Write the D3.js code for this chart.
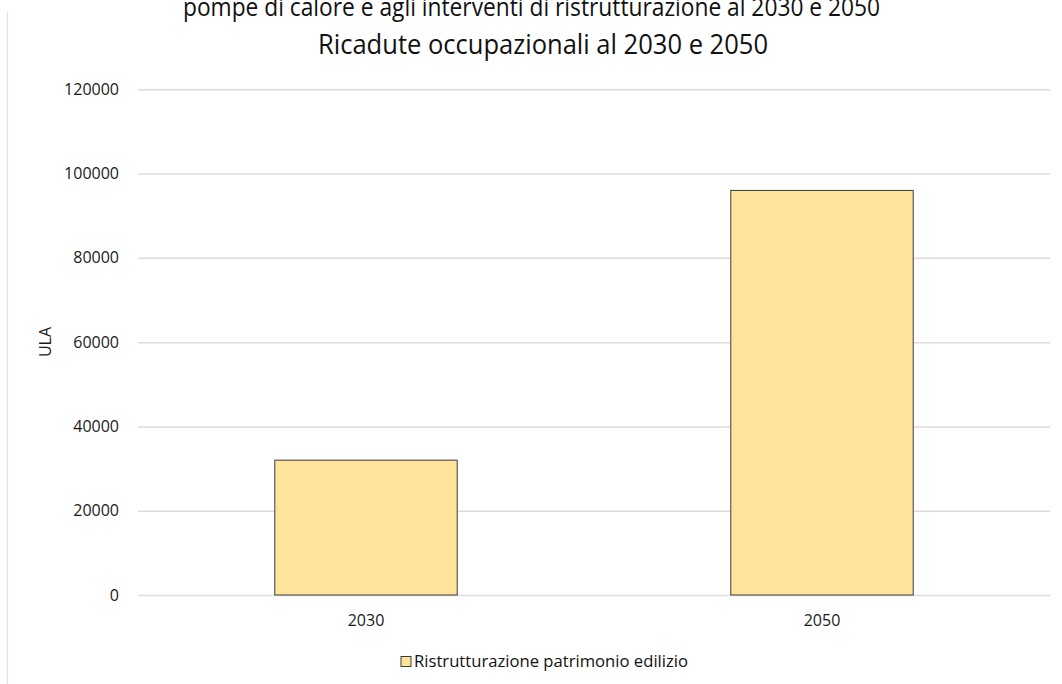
<!DOCTYPE html>
<html>
<head>
<meta charset="utf-8">
<script src="https://cdn.jsdelivr.net/npm/d3@7"></script>
<style>
  html, body { margin: 0; padding: 0; background: #fff; }
  svg { display: block; font-family: "Open Sans", sans-serif; }
</style>
</head>
<body>
<svg id="plot" width="1062" height="684"></svg>
<script>
const categories = ['2030', '2050']
const values = [32000, 96000]
const yTicks = [0, 20000, 40000, 60000, 80000, 100000, 120000]
const seriesName = 'Ristrutturazione patrimonio edilizio'
const chartTitle = 'Ricadute occupazionali al 2030 e 2050'
const topText = 'pompe di calore e agli interventi di ristrutturazione al 2030 e 2050'
const yLabel = 'ULA'

const plot = d3.select('#plot')

const barFill = '#fee49a'
const gridColor = '#dcdcdc'

let xScale = d3.scaleBand()
            .domain(categories)
            .range([138, 1050])
            .paddingInner(0.6)
            .paddingOuter(0.3)

let yScale = d3.scaleLinear()
            .domain([0, 120000])
            .range([595, 89.3])

// text from the page above the chart, partly cut at the top
plot.append('text')
    .attr('x', 183)
    .attr('y', 16)
    .attr('textLength', 697)
    .attr('lengthAdjust', 'spacingAndGlyphs')
    .style('font-size', '25px')
    .style('fill', '#111')
    .text(topText)

// chart frame edge
plot.append('line')
    .attr('x1', 7.5).attr('x2', 7.5)
    .attr('y1', 12).attr('y2', 684)
    .attr('stroke', '#e2e2e2')
    .attr('stroke-width', 1.2)

plot.append('text')
    .classed('title', true)
    .attr('x', 543)
    .attr('y', 54)
    .attr('text-anchor', 'middle')
    .attr('textLength', 450)
    .attr('lengthAdjust', 'spacingAndGlyphs')
    .style('font-size', '27px')
    .style('fill', '#111')
    .text(chartTitle)

const yAxis = d3.axisLeft(yScale)
		.tickValues(yTicks)
		.tickFormat(d3.format('d'))
                .tickSizeInner(-(1050 - 138))
		.tickSizeOuter(0)
		.tickPadding(19)

plot.append('g')
    .classed('yAxis', true)
    .attr('transform', 'translate(138, 0)')
    .call(yAxis)

plot.select('.yAxis .domain').remove()

plot.selectAll('.yAxis .tick line')
    .attr('stroke', gridColor)
    .attr('stroke-width', 1.5)

plot.selectAll('.yAxis .tick text')
    .style('font-size', '16px')
    .style('font-family', '"Open Sans", sans-serif')
    .style('fill', '#1a1a1a')

plot.append('text')
    .attr('transform', 'translate(51, 342) rotate(-90)')
    .attr('text-anchor', 'middle')
    .style('font-size', '16px')
    .style('fill', '#1a1a1a')
    .text(yLabel)

plot.selectAll('.bar')
    .data(categories)
    .enter()
    .append('rect')
    .classed('bar', true)
    .attr('x', d => xScale(d))
    .attr('y', (d, i) => yScale(values[i]))
    .attr('width', xScale.bandwidth())
    .attr('height', (d, i) => yScale(0) - yScale(values[i]))
    .attr('fill', barFill)
    .attr('stroke', '#3c3c3c')
    .attr('stroke-width', 1)

const xAxis = d3.axisBottom(xScale)
		.tickSize(0)
		.tickPadding(20)

plot.append('g')
    .classed('xAxis', true)
    .attr('transform', 'translate(0, 595)')
    .call(xAxis)

plot.select('.xAxis .domain').remove()

plot.selectAll('.xAxis .tick text')
    .style('font-size', '16px')
    .style('font-family', '"Open Sans", sans-serif')
    .style('fill', '#1a1a1a')

/* legend */
const legend = plot.append('g')
    .classed('legend', true)

legend.append('rect')
    .attr('x', 401)
    .attr('y', 656.5)
    .attr('width', 10)
    .attr('height', 10)
    .attr('fill', barFill)
    .attr('stroke', '#3c3c3c')
    .attr('stroke-width', 1)

legend.append('text')
    .attr('x', 414)
    .attr('y', 667)
    .attr('textLength', 274)
    .attr('lengthAdjust', 'spacingAndGlyphs')
    .style('font-size', '17px')
    .style('fill', '#111')
    .text(seriesName)
</script>
</body>
</html>
